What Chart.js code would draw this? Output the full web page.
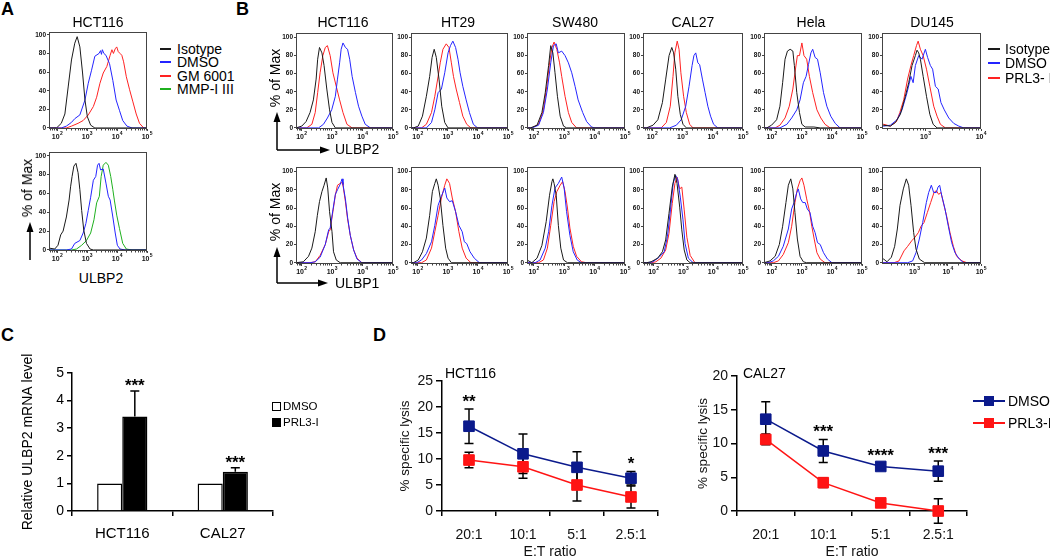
<!DOCTYPE html>
<html>
<head>
<meta charset="utf-8">
<script src="https://cdn.jsdelivr.net/npm/chart.js@4.4.1/dist/chart.umd.min.js"></script>
<style>
body { margin: 0; background: #fff; width: 1050px; height: 559px; position: relative; overflow: hidden;
       font-family: "Liberation Sans", Arial, sans-serif; }
canvas { position: absolute; }
.t { position: absolute; white-space: nowrap; line-height: 1; color: #000; }
</style>
</head>
<body>
<svg width="1050" height="559" style="position:absolute;left:0;top:0">
  <g stroke="#000" stroke-width="1.5" fill="none">
    <line x1="30" y1="260" x2="30" y2="230"/>
    <line x1="277" y1="150" x2="277" y2="120"/>
    <line x1="277" y1="150" x2="322" y2="150"/>
    <line x1="277" y1="283" x2="277" y2="255"/>
    <line x1="277" y1="283" x2="320" y2="283"/>
  </g>
  <g fill="#000">
    <polygon points="30,222 26.5,232 33.5,232"/>
    <polygon points="277,112 273.5,122 280.5,122"/>
    <polygon points="330,150 320,146.5 320,153.5"/>
    <polygon points="277,247 273.5,257 280.5,257"/>
    <polygon points="328,283 318,279.5 318,286.5"/>
  </g>
</svg>
<script>
// ---- panel A histograms: [log10 intensity, % of max]
const aTopIso  = [[1.98,0],[2.14,5],[2.26,15],[2.37,44],[2.48,73],[2.59,91],[2.67,98],[2.76,87],[2.85,59],[2.93,30],[3.01,12],[3.12,3],[3.26,0]];
const aTopDmso = [[2.14,0],[2.31,2],[2.48,6],[2.59,10],[2.76,14],[2.93,30],[3.04,48],[3.15,62],[3.26,77],[3.40,80],[3.45,83],[3.48,79],[3.51,84],[3.56,80],[3.63,78],[3.75,69],[3.86,51],[3.97,30],[4.08,19],[4.19,8],[4.33,2],[4.50,0]];
const aTopGm   = [[2.31,0],[2.48,2],[2.70,5],[2.87,8],[3.04,14],[3.21,23],[3.32,33],[3.43,48],[3.54,59],[3.66,66],[3.77,78],[3.83,84],[3.88,80],[3.94,85],[3.99,87],[4.04,82],[4.10,80],[4.16,78],[4.22,71],[4.31,55],[4.42,41],[4.53,28],[4.64,15],[4.75,5],[4.89,0]];
const aBotIso  = [[1.75,2],[1.92,1],[2.03,5],[2.12,16],[2.20,20],[2.31,35],[2.40,53],[2.45,67],[2.50,78],[2.56,89],[2.63,92],[2.70,82],[2.76,64],[2.82,42],[2.89,21],[2.98,7],[3.10,1],[3.21,0]];
const aBotDmso = [[2.31,0],[2.48,1],[2.59,7],[2.76,10],[2.87,18],[2.96,28],[3.04,42],[3.12,56],[3.21,74],[3.29,78],[3.35,90],[3.40,92],[3.45,85],[3.54,86],[3.63,71],[3.71,57],[3.77,53],[3.86,35],[3.94,18],[4.01,5],[4.10,1],[4.27,0]];
const aBotMmp  = [[2.48,0],[2.65,1],[2.82,5],[2.98,10],[3.12,18],[3.23,32],[3.32,50],[3.41,57],[3.47,78],[3.54,90],[3.63,93],[3.71,90],[3.79,78],[3.86,64],[3.91,53],[3.99,37],[4.08,23],[4.19,7],[4.31,1],[4.50,0]];

// ---- panel B, ULBP2 row
const bTopHctIso  = [[1.84,0],[2.01,2],[2.15,7],[2.28,17],[2.39,31],[2.48,54],[2.53,76],[2.59,89],[2.67,83],[2.74,69],[2.83,43],[2.92,20],[3.00,6],[3.11,0]];
const bTopHctDmso = [[2.56,0],[2.72,4],[2.85,11],[2.99,20],[3.11,35],[3.18,54],[3.25,72],[3.30,87],[3.36,94],[3.44,89],[3.51,87],[3.58,76],[3.66,57],[3.77,39],[3.87,24],[3.98,13],[4.09,4],[4.26,0]];
const bTopHctPrl  = [[2.17,0],[2.34,4],[2.45,17],[2.53,39],[2.61,61],[2.70,80],[2.78,89],[2.85,91],[2.94,80],[3.03,61],[3.14,46],[3.25,31],[3.36,17],[3.49,4],[3.66,0]];
const bTopHtIso   = [[1.86,0],[2.02,2],[2.16,13],[2.29,35],[2.40,57],[2.48,78],[2.55,87],[2.62,78],[2.71,54],[2.80,24],[2.90,6],[3.01,0]];
const bTopHtDmso  = [[2.29,0],[2.46,6],[2.57,20],[2.68,39],[2.79,43],[2.90,61],[3.01,83],[3.09,91],[3.17,96],[3.26,89],[3.34,76],[3.41,61],[3.50,46],[3.61,31],[3.72,17],[3.85,4],[3.99,0]];
const bTopHtPrl   = [[2.13,0],[2.29,4],[2.46,17],[2.57,35],[2.68,57],[2.75,72],[2.84,87],[2.95,93],[3.04,89],[3.12,72],[3.19,57],[3.28,43],[3.39,28],[3.50,13],[3.63,4],[3.77,0]];
const bTopSwIso   = [[1.89,0],[2.11,3],[2.27,17],[2.38,39],[2.49,69],[2.56,91],[2.63,83],[2.70,61],[2.78,35],[2.87,13],[2.98,2],[3.08,0]];
const bTopSwDmso  = [[1.94,0],[2.16,3],[2.32,17],[2.45,43],[2.56,72],[2.65,91],[2.74,93],[2.81,83],[2.92,85],[3.03,80],[3.14,72],[3.25,61],[3.36,46],[3.46,31],[3.61,17],[3.74,7],[3.90,1],[4.01,0]];
const bTopSwPrl   = [[1.94,0],[2.16,4],[2.32,20],[2.43,46],[2.52,72],[2.60,89],[2.67,95],[2.76,87],[2.85,72],[2.92,57],[3.03,35],[3.14,17],[3.25,6],[3.41,0]];
const bTopCalIso  = [[1.81,0],[2.03,3],[2.19,9],[2.34,28],[2.45,54],[2.56,80],[2.65,89],[2.71,83],[2.78,65],[2.85,35],[2.93,15],[3.02,4],[3.13,0]];
const bTopCalDmso = [[2.58,0],[2.80,3],[2.96,9],[3.11,24],[3.22,46],[3.32,69],[3.38,80],[3.44,83],[3.51,72],[3.57,70],[3.66,54],[3.75,39],[3.84,24],[3.93,13],[4.03,4],[4.17,0]];
const bTopCalPrl  = [[2.30,0],[2.47,6],[2.60,24],[2.69,57],[2.75,83],[2.83,96],[2.89,87],[2.95,61],[3.04,35],[3.13,17],[3.24,4],[3.35,0]];
const bTopHelaIso  = [[1.83,0],[1.99,3],[2.16,9],[2.27,24],[2.36,50],[2.44,76],[2.52,85],[2.61,87],[2.70,85],[2.75,69],[2.83,39],[2.92,17],[3.00,4],[3.11,1],[3.40,1],[3.61,0]];
const bTopHelaDmso = [[2.27,0],[2.50,4],[2.66,11],[2.83,20],[2.94,31],[3.05,50],[3.14,57],[3.22,70],[3.30,83],[3.36,87],[3.44,78],[3.52,76],[3.61,61],[3.72,39],[3.83,24],[3.96,13],[4.11,5],[4.27,0]];
const bTopHelaPrl  = [[2.11,0],[2.27,3],[2.44,11],[2.58,24],[2.70,43],[2.77,61],[2.85,80],[2.92,80],[3.00,94],[3.07,80],[3.16,76],[3.25,57],[3.36,39],[3.50,20],[3.63,11],[3.77,4],[3.94,0]];
const bTopDuIso   = [[2.25,3],[2.37,2],[2.46,6],[2.55,15],[2.64,35],[2.70,50],[2.76,69],[2.82,80],[2.85,86],[2.88,83],[2.91,76],[2.96,57],[3.02,35],[3.08,15],[3.14,4],[3.21,0]];
const bTopDuDmso  = [[2.25,2],[2.37,3],[2.49,9],[2.58,20],[2.67,39],[2.74,57],[2.78,50],[2.82,69],[2.88,80],[2.94,76],[3.00,87],[3.04,78],[3.09,69],[3.13,65],[3.18,46],[3.23,43],[3.28,28],[3.34,20],[3.42,11],[3.51,5],[3.60,2],[3.69,0]];
const bTopDuPrl   = [[2.25,4],[2.37,2],[2.48,7],[2.54,17],[2.61,31],[2.68,54],[2.74,69],[2.79,80],[2.84,91],[2.87,96],[2.91,87],[2.96,80],[3.02,65],[3.08,46],[3.15,24],[3.21,13],[3.27,4],[3.36,0]];

// ---- panel B, ULBP1 row
const bBotHctIso  = [[1.84,0],[2.06,1],[2.23,7],[2.34,16],[2.45,34],[2.52,52],[2.59,67],[2.67,78],[2.74,85],[2.81,93],[2.86,82],[2.92,56],[3.00,34],[3.05,12],[3.14,3],[3.27,0]];
const bBotHctDmso = [[2.28,0],[2.45,1],[2.61,6],[2.78,20],[2.89,36],[2.94,38],[3.03,58],[3.11,75],[3.18,80],[3.27,86],[3.33,92],[3.36,86],[3.44,70],[3.51,50],[3.60,30],[3.71,14],[3.82,4],[3.98,0]];
const bBotHctPrl  = [[2.28,0],[2.45,1],[2.61,8],[2.78,20],[2.89,34],[2.94,36],[3.03,56],[3.11,74],[3.18,85],[3.27,87],[3.33,88],[3.36,85],[3.44,67],[3.51,48],[3.60,30],[3.71,14],[3.82,5],[3.98,0]];
const bBotHtIso   = [[1.86,0],[2.02,3],[2.16,12],[2.29,27],[2.40,52],[2.49,78],[2.57,87],[2.62,92],[2.68,85],[2.75,71],[2.84,41],[2.93,16],[3.01,5],[3.12,0]];
const bBotHtDmso  = [[1.97,0],[2.13,3],[2.29,10],[2.46,23],[2.57,41],[2.68,63],[2.79,73],[2.90,82],[2.97,71],[3.06,67],[3.15,68],[3.26,56],[3.37,41],[3.48,34],[3.55,23],[3.63,21],[3.74,12],[3.88,5],[4.05,0]];
const bBotHtPrl   = [[2.13,0],[2.29,3],[2.46,16],[2.57,34],[2.68,52],[2.79,71],[2.90,85],[2.97,92],[3.06,87],[3.15,71],[3.26,56],[3.37,34],[3.48,16],[3.61,5],[3.77,0]];
const bBotSwIso   = [[1.80,3],[1.94,0],[2.11,5],[2.27,19],[2.41,45],[2.52,74],[2.60,89],[2.63,92],[2.67,87],[2.74,74],[2.81,41],[2.89,16],[2.98,3],[3.11,0]];
const bBotSwDmso  = [[2.05,0],[2.21,3],[2.38,16],[2.49,34],[2.60,63],[2.70,82],[2.81,87],[2.92,94],[3.00,82],[3.08,56],[3.19,30],[3.30,12],[3.43,3],[3.57,0]];
const bBotSwPrl   = [[2.16,0],[2.32,3],[2.45,16],[2.56,41],[2.67,67],[2.76,78],[2.87,85],[2.95,89],[3.03,78],[3.11,60],[3.19,38],[3.30,18],[3.41,7],[3.57,1],[3.74,0]];
const bBotCalIso  = [[1.76,0],[1.92,1],[2.14,5],[2.30,12],[2.41,25],[2.52,54],[2.63,83],[2.72,97],[2.79,87],[2.88,61],[2.95,36],[3.03,14],[3.12,3],[3.23,0]];
const bBotCalDmso = [[1.81,0],[1.98,1],[2.19,6],[2.36,12],[2.47,29],[2.57,58],[2.66,87],[2.74,96],[2.81,92],[2.90,72],[2.99,47],[3.06,21],[3.17,5],[3.33,0]];
const bBotCalPrl  = [[1.92,0],[2.08,1],[2.25,5],[2.41,14],[2.52,32],[2.63,65],[2.72,87],[2.79,94],[2.88,81],[2.95,83],[3.03,58],[3.12,28],[3.23,8],[3.39,0]];
const bBotHelaIso  = [[1.77,0],[1.94,2],[2.11,7],[2.25,20],[2.36,40],[2.47,66],[2.55,85],[2.63,92],[2.70,81],[2.77,55],[2.85,26],[2.94,7],[3.05,1],[3.16,0]];
const bBotHelaDmso = [[1.88,0],[2.05,2],[2.22,7],[2.38,18],[2.55,37],[2.66,59],[2.74,66],[2.83,77],[2.88,81],[2.96,70],[3.03,66],[3.11,66],[3.18,59],[3.27,55],[3.36,40],[3.44,33],[3.52,22],[3.61,20],[3.72,11],[3.85,4],[4.00,0]];
const bBotHelaPrl  = [[2.05,0],[2.22,2],[2.38,9],[2.55,22],[2.66,40],[2.77,66],[2.85,81],[2.94,90],[3.00,93],[3.07,85],[3.16,70],[3.25,57],[3.33,40],[3.41,26],[3.50,11],[3.61,4],[3.77,0]];
const bBotDuIso   = [[2.08,4],[2.18,1],[2.31,6],[2.41,18],[2.49,37],[2.57,63],[2.67,81],[2.76,92],[2.83,85],[2.90,63],[2.98,33],[3.05,15],[3.15,4],[3.31,0]];
const bBotDuDmso  = [[2.80,0],[2.95,2],[3.05,11],[3.15,26],[3.25,44],[3.36,66],[3.43,77],[3.51,85],[3.58,77],[3.66,77],[3.71,83],[3.76,85],[3.82,74],[3.92,59],[4.02,40],[4.12,22],[4.22,11],[4.35,4],[4.48,0]];
const bBotDuPrl   = [[2.39,0],[2.54,2],[2.69,13],[2.80,18],[2.92,24],[3.02,28],[3.12,33],[3.20,40],[3.29,44],[3.39,55],[3.49,66],[3.59,77],[3.66,79],[3.73,75],[3.80,77],[3.87,66],[3.97,51],[4.07,33],[4.17,18],[4.27,7],[4.43,2],[4.58,0]];

// ---- panel C
const cCats = ['HCT116', 'CAL27'];
const cDmso = [1, 1];
const cPrl = [3.42, 1.42];
const cPrlErr = [0.93, 0.15];
const cStars = ['***', '***'];

// ---- panel D
const dCats = ['20:1', '10:1', '5:1', '2.5:1'];
const dHctDmso = [16.3, 11.0, 8.4, 6.3];
const dHctDmsoErr = [3.3, 3.8, 3.0, 1.3];
const dHctPrl = [9.8, 8.5, 5.0, 2.7];
const dHctPrlErr = [1.5, 2.2, 3.1, 2.1];
const dHctStars = ['**', '', '', '*'];
const dCalDmso = [13.6, 8.9, 6.6, 5.9];
const dCalDmsoErr = [2.6, 1.7, 0.5, 1.5];
const dCalPrl = [10.6, 4.2, 1.2, 0.0];
const dCalPrlErr = [0.8, 0.7, 0.6, 1.8];
const dCalStars = ['', '***', '****', '***'];

const FONT = '"Liberation Sans", Arial, sans-serif';
Chart.defaults.font.family = FONT;
Chart.defaults.color = '#000';
Chart.defaults.animation = false;

const K = '#1a1a1a', BL = '#2424ff', RD = '#ff2222', GR = '#1fb01f';
const NAVY = '#0b1a8c', RED = '#ff1414';

function addCanvas(left, top, w, h) {
  const cv = document.createElement('canvas');
  cv.width = w; cv.height = h;
  cv.style.left = left + 'px'; cv.style.top = top + 'px';
  document.body.appendChild(cv);
  return cv;
}

function txt(s, x, y, css, anchor) {
  const d = document.createElement('div');
  d.className = 't';
  d.textContent = s;
  d.style.cssText += css;
  d.style.left = x + 'px'; d.style.top = y + 'px';
  d.style.transform = anchor === 'c' ? 'translate(-50%,-50%)'
                    : anchor === 'v' ? 'translate(-50%,-50%) rotate(-90deg)'
                    : 'translate(0,-50%)';
  document.body.appendChild(d);
}

function swatch(x, y, w, h, css) {
  const d = document.createElement('div');
  d.style.cssText = 'position:absolute;left:' + x + 'px;top:' + y + 'px;width:' + w + 'px;height:' + h + 'px;' + css;
  document.body.appendChild(d);
}

// box frame, minor log ticks and 10^n labels for the flow histograms
const framePlugin = {
  id: 'frame',
  afterDraw(chart) {
    const {ctx, chartArea: a, scales: {x}} = chart;
    ctx.save();
    ctx.strokeStyle = '#444';
    ctx.lineWidth = 1;
    ctx.strokeRect(a.left + 0.5, a.top + 0.5, a.right - a.left - 1, a.bottom - a.top - 1);
    ctx.beginPath();
    for (let n = Math.floor(x.min); n < x.max; n++) {
      for (let k = 2; k < 10; k++) {
        const v = n + Math.log10(k);
        if (v <= x.min || v >= x.max) continue;
        const px = Math.round(x.getPixelForValue(v)) + 0.5;
        ctx.moveTo(px, a.bottom);
        ctx.lineTo(px, a.bottom + 1.5);
      }
    }
    ctx.stroke();
    ctx.fillStyle = '#111';
    x.ticks.forEach(t => {
      const px = x.getPixelForValue(t.value);
      ctx.font = 'bold 7px ' + FONT;
      ctx.textAlign = 'right';
      ctx.fillText('10', px + 2.5, a.bottom + 10);
      ctx.font = 'bold 5px ' + FONT;
      ctx.textAlign = 'left';
      ctx.fillText(String(t.value), px + 2.8, a.bottom + 6);
    });
    ctx.restore();
  }
};

function pad(c, xr) {
  const out = c.slice();
  if (c[0][0] > xr[0]) out.unshift([xr[0], c[0][1]]);
  if (c[c.length - 1][0] < xr[1]) out.push([xr[1], 0]);
  return out;
}

function makeHist(box, xr, yr, curves) {
  const [L, T, R, B] = box;
  const padT = 5, padR = 8, yW = 16, xH = 13;
  const cv = addCanvas(L - yW, T - padT, R - L + yW + padR, B - T + padT + xH);
  new Chart(cv, {
    type: 'line',
    data: {
      datasets: curves.map(([c, col]) => ({
        data: pad(c, xr), borderColor: col, borderWidth: 1, pointRadius: 0, tension: 0
      }))
    },
    options: {
      responsive: false,
      devicePixelRatio: 1,
      layout: {padding: {top: padT, right: padR, left: 0, bottom: 0}},
      plugins: {legend: {display: false}, tooltip: {enabled: false}},
      scales: {
        x: {
          type: 'linear', min: xr[0], max: xr[1],
          afterBuildTicks: s => { s.ticks = [2, 3, 4, 5].filter(v => v >= s.min - 1e-9 && v <= s.max + 1e-9).map(v => ({value: v})); },
          afterFit: s => { s.height = xH; s.paddingLeft = 0; s.paddingRight = 0; },
          ticks: {display: false},
          grid: {drawOnChartArea: false, tickLength: 2, color: '#444'},
          border: {display: false}
        },
        y: {
          min: yr[0], max: yr[1],
          afterBuildTicks: s => { s.ticks = [0, 20, 40, 60, 80, 100].map(v => ({value: v})); },
          afterFit: s => { s.width = yW; s.paddingTop = 0; s.paddingBottom = 0; },
          ticks: {font: {size: 6.5, weight: 'bold'}, color: '#111', padding: 1, autoSkip: false},
          grid: {drawOnChartArea: false, tickLength: 2, color: '#444'},
          border: {display: false}
        }
      }
    },
    plugins: [framePlugin]
  });
}

// ---- panel A
makeHist([49, 32, 147, 129], [1.73, 5], [-1.1, 103], [[aTopIso, K], [aTopDmso, BL], [aTopGm, RD]]);
makeHist([49, 152, 147, 251], [1.73, 5], [-1.1, 104], [[aBotIso, K], [aBotDmso, BL], [aBotMmp, GR]]);

// ---- panel B
const bCols = [[296, 393], [411, 508], [527, 625], [643, 743], [764, 862], [882, 981]];
const bTopRange = [[1.82, 5], [1.78, 5], [1.78, 5], [1.7, 5], [1.74, 5], [2.22, 4]];
const bBotRange = [[1.82, 5], [1.78, 5], [1.78, 5], [1.65, 5], [1.74, 5], [2.03, 5]];
const bTop = [[bTopHctIso, bTopHctDmso, bTopHctPrl], [bTopHtIso, bTopHtDmso, bTopHtPrl], [bTopSwIso, bTopSwDmso, bTopSwPrl],
              [bTopCalIso, bTopCalDmso, bTopCalPrl], [bTopHelaIso, bTopHelaDmso, bTopHelaPrl], [bTopDuIso, bTopDuDmso, bTopDuPrl]];
const bBot = [[bBotHctIso, bBotHctDmso, bBotHctPrl], [bBotHtIso, bBotHtDmso, bBotHtPrl], [bBotSwIso, bBotSwDmso, bBotSwPrl],
              [bBotCalIso, bBotCalDmso, bBotCalPrl], [bBotHelaIso, bBotHelaDmso, bBotHelaPrl], [bBotDuIso, bBotDuDmso, bBotDuPrl]];
const bNames = ['HCT116', 'HT29', 'SW480', 'CAL27', 'Hela', 'DU145'];
bCols.forEach(([L, R], i) => {
  const [iso, dmso, prl] = bTop[i];
  makeHist([L, 33, R, 129], bTopRange[i], [-1.2, 105], [[iso, K], [dmso, BL], [prl, RD]]);
  const [iso2, dmso2, prl2] = bBot[i];
  makeHist([L, 167, R, 264], bBotRange[i], [-1.4, 105], [[iso2, K], [dmso2, BL], [prl2, RD]]);
});

// ---- panel C: bars with upper error bars
const errC = {
  id: 'errC',
  afterDatasetsDraw(chart) {
    const {ctx, scales: {y}} = chart;
    const meta = chart.getDatasetMeta(1);
    ctx.save();
    ctx.strokeStyle = '#000'; ctx.lineWidth = 1.5;
    ctx.fillStyle = '#000';
    ctx.font = 'bold 17px ' + FONT;
    ctx.textAlign = 'center';
    meta.data.forEach((bar, i) => {
      const yTop = y.getPixelForValue(cPrl[i] + cPrlErr[i]);
      ctx.beginPath();
      ctx.moveTo(bar.x, bar.y); ctx.lineTo(bar.x, yTop);
      ctx.moveTo(bar.x - 4.5, yTop); ctx.lineTo(bar.x + 4.5, yTop);
      ctx.stroke();
      ctx.fillText(cStars[i], bar.x, yTop);
    });
    ctx.restore();
  }
};

new Chart(addCanvas(0, 350, 290, 209), {
  type: 'bar',
  data: {
    labels: cCats,
    datasets: [
      {label: 'DMSO', data: cDmso, backgroundColor: '#fff', borderColor: '#000', borderWidth: 1.5},
      {label: 'PRL3-I', data: cPrl, backgroundColor: '#000', borderColor: '#000', borderWidth: 1.5}
    ]
  },
  options: {
    responsive: false, devicePixelRatio: 1,
    layout: {padding: {top: 23, right: 17, left: 0, bottom: 0}},
    datasets: {bar: {categoryPercentage: 0.5, barPercentage: 1}},
    plugins: {legend: {display: false}, tooltip: {enabled: false}},
    scales: {
      x: {
        afterFit: s => { s.height = 48; },
        ticks: {font: {size: 15}, padding: 9, color: '#000'},
        grid: {offset: true, drawOnChartArea: false, tickLength: 5, color: '#000', lineWidth: 1.5},
        border: {color: '#000', width: 1.5}
      },
      y: {
        min: 0, max: 5,
        afterFit: s => { s.width = 72; },
        ticks: {stepSize: 1, font: {size: 14}, padding: 3, color: '#000'},
        grid: {drawOnChartArea: false, tickLength: 5, color: '#000', lineWidth: 1.5},
        border: {color: '#000', width: 1.5},
        title: {display: true, text: 'Relative ULBP2 mRNA level', font: {size: 14, lineHeight: 1}, padding: {top: 21, bottom: 0}}
      }
    }
  },
  plugins: [errC]
});

// ---- panel D: lysis curves
function errD(errs, stars) {
  return {
    id: 'errD',
    beforeDatasetsDraw(chart) {
      const {ctx, scales: {y}} = chart;
      ctx.save();
      ctx.strokeStyle = '#000'; ctx.lineWidth = 1.5;
      errs.forEach((e, di) => {
        const vals = chart.data.datasets[di].data;
        chart.getDatasetMeta(di).data.forEach((pt, i) => {
          const y1 = y.getPixelForValue(vals[i] + e[i]);
          const y2 = y.getPixelForValue(vals[i] - e[i]);
          ctx.beginPath();
          ctx.moveTo(pt.x, y1); ctx.lineTo(pt.x, y2);
          ctx.moveTo(pt.x - 4.5, y1); ctx.lineTo(pt.x + 4.5, y1);
          ctx.moveTo(pt.x - 4.5, y2); ctx.lineTo(pt.x + 4.5, y2);
          ctx.stroke();
        });
      });
      ctx.restore();
    },
    afterDatasetsDraw(chart) {
      const {ctx, scales: {y}} = chart;
      const vals = chart.data.datasets[0].data;
      ctx.save();
      ctx.fillStyle = '#000';
      ctx.font = 'bold 17px ' + FONT;
      ctx.textAlign = 'center';
      chart.getDatasetMeta(0).data.forEach((pt, i) => {
        if (!stars[i]) return;
        ctx.fillText(stars[i], pt.x, y.getPixelForValue(vals[i] + errs[0][i]) - 2);
      });
      ctx.restore();
    }
  };
}

function makeLysis(left, w, padTop, padRight, yW, yMax, titlePad, dmso, dmsoErr, prl, prlErr, stars) {
  const series = (label, data, col) => ({
    label, data, borderColor: col, backgroundColor: col, borderWidth: 1.5,
    pointStyle: 'rect', pointRadius: 7.5, pointBorderWidth: 1, pointBorderColor: col, clip: false, tension: 0
  });
  new Chart(addCanvas(left, 355, w, 204), {
    type: 'line',
    data: {labels: dCats, datasets: [series('DMSO', dmso, NAVY), series('PRL3-I', prl, RED)]},
    options: {
      responsive: false, devicePixelRatio: 1,
      layout: {padding: {top: padTop, right: padRight, left: 0, bottom: 0}},
      plugins: {legend: {display: false}, tooltip: {enabled: false}},
      scales: {
        x: {
          offset: true,
          afterFit: s => { s.height = 48; },
          ticks: {font: {size: 14}, padding: 11, color: '#111'},
          grid: {offset: true, drawOnChartArea: false, tickLength: 5, color: '#000', lineWidth: 1.5},
          border: {color: '#000', width: 1.5},
          title: {display: true, text: 'E:T ratio', font: {size: 14, lineHeight: 1}, padding: 0, color: '#111'}
        },
        y: {
          min: 0, max: yMax,
          afterFit: s => { s.width = yW; },
          ticks: {stepSize: 5, font: {size: 14}, padding: 3, color: '#111'},
          grid: {drawOnChartArea: false, tickLength: 6, color: '#000', lineWidth: 1.5},
          border: {color: '#000', width: 1.5},
          title: {display: true, text: '% specific lysis', font: {size: 13.5, lineHeight: 1}, padding: {top: titlePad, bottom: 0}, color: '#111'}
        }
      }
    },
    plugins: [errD([dmsoErr, prlErr], stars)]
  });
}

makeLysis(395, 275, 26, 12, 47, 25, 3.3, dHctDmso, dHctDmsoErr, dHctPrl, dHctPrlErr, dHctStars);
makeLysis(697, 280, 21, 10, 40, 20, 0, dCalDmso, dCalDmsoErr, dCalPrl, dCalPrlErr, dCalStars);

// ---- text, legends, labels
const L18 = 'font-weight:bold;font-size:18px;';
txt('A', 1, 9, L18); txt('B', 236, 9, L18); txt('C', 1, 335, L18); txt('D', 373, 335, L18);

const F14 = 'font-size:14px;';
txt('HCT116', 98, 22, F14, 'c');
const bTitleX = [343, 458, 575, 693, 811, 932];
bNames.forEach((n, i) => txt(n, bTitleX[i], 22, F14, 'c'));

[['Isotype', K, 49], ['DMSO', BL, 62], ['GM 6001', RD, 76], ['MMP-I III', GR, 89]].forEach(([s, c, y]) => {
  swatch(160, y - 1, 11, 2, 'background:' + c);
  txt(s, 177, y, F14);
});
[['Isotype', K, 49], ['DMSO', BL, 63], ['PRL3- I', RD, 78]].forEach(([s, c, y]) => {
  swatch(988, y - 1, 12, 2, 'background:' + c);
  txt(s, 1005, y, F14);
});

txt('% of Max', 27, 188, F14, 'v');
txt('ULBP2', 101, 278, F14, 'c');
txt('% of Max', 275, 78, F14, 'v');
txt('% of Max', 275, 212, F14, 'v');
txt('ULBP2', 335, 149, F14);
txt('ULBP1', 335, 283, F14);

swatch(272, 402, 9, 9, 'box-sizing:border-box;border:1.5px solid #000;background:#fff');
swatch(272, 418, 9, 9, 'background:#000');
txt('DMSO', 283, 406.5, 'font-size:11.5px;');
txt('PRL3-I', 283, 422.5, 'font-size:11.5px;');

txt('HCT116', 445, 373, F14);
txt('CAL27', 743, 373, F14);

[['DMSO', NAVY, 401], ['PRL3-I', RED, 423]].forEach(([s, c, y]) => {
  swatch(973, y - 1, 32, 2, 'background:' + c);
  swatch(984, y - 5, 10, 10, 'background:' + c);
  txt(s, 1008, y, F14);
});
</script>
</body>
</html>
